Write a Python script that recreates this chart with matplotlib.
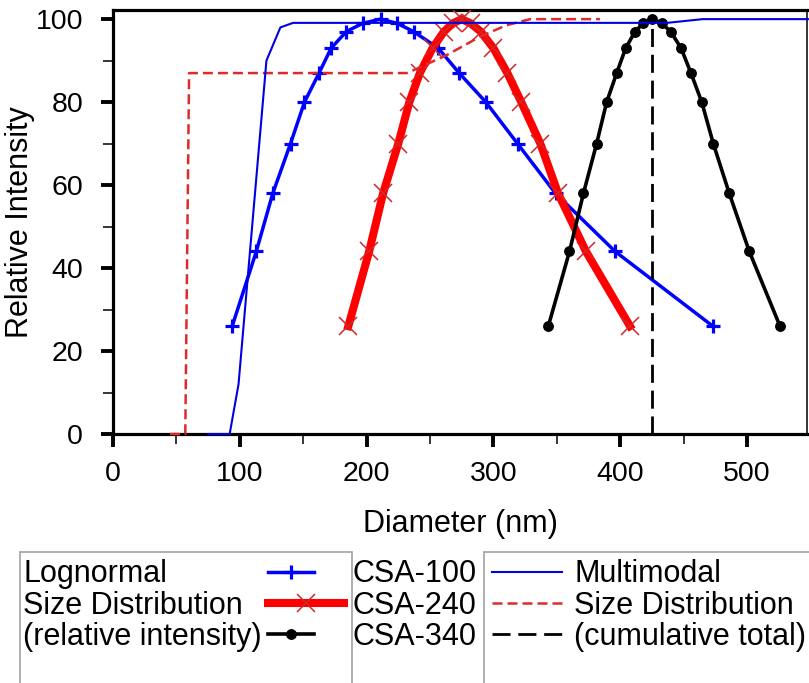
import matplotlib
matplotlib.use("Agg")
import matplotlib.pyplot as plt
from matplotlib.lines import Line2D
from matplotlib.legend_handler import HandlerLine2D
from matplotlib.ticker import MultipleLocator

plt.rcParams['font.family'] = ['Liberation Sans', 'DejaVu Sans']

# ---------------- data ----------------
# Lognormal size distributions (relative intensity)
csa100_x = [94, 113, 126, 140, 151, 162.5, 172, 184, 197, 211, 224, 237, 256.5, 273, 294, 319, 349, 396, 473]
csa100_y = [26, 44, 58, 70, 80, 87, 93, 97, 99, 100, 99, 97, 93, 87, 80, 70, 58, 44, 26]

csa240_x = [185.6, 202, 213, 225, 233.7, 242, 252, 261, 268, 275, 282, 290, 300, 311, 322, 337, 351, 373, 407.7]
csa240_y = [26, 44, 58, 70, 80, 87, 93, 97, 99, 100, 99, 97, 93, 87, 80, 70, 58, 44, 26]

csa340_x = [343.3, 360, 371, 381.4, 389.3, 397.2, 404.3, 411.7, 418.2, 425.3, 432.7, 439.8, 448, 455.8, 464.3, 473.4, 486, 501.8, 526]
csa340_y = [26, 44, 58, 70, 80, 87, 93, 97, 99, 100, 99, 97, 93, 87, 80, 70, 58, 44, 26]

# Multimodal size distributions (cumulative total)
cum100_x = [75, 92, 99, 121, 132, 142, 437, 465, 548]
cum100_y = [0, 0, 12, 90, 98, 99.1, 99.1, 100, 100]

cum240_x = [45, 57, 60, 232, 263, 289, 310, 329, 384]
cum240_y = [0, 0, 87, 87, 91.3, 95.7, 98.5, 100, 100]

cum340_x = [425, 425]
cum340_y = [0, 100]

legend_left_labels = ["Lognormal", "Size Distribution", "(relative intensity)"]
sample_labels = ["CSA-100", "CSA-240", "CSA-340"]
legend_right_labels = ["Multimodal", "Size Distribution", "(cumulative total)"]

# ---------------- figure ----------------
W, H = 809, 683
fig = plt.figure(figsize=(W / 100, H / 100), dpi=100)
ax = fig.add_axes([113 / W, (H - 434) / H, 694 / W, 424 / H])

BLUE = '#0000ff'
RED = '#ff0000'
REDM = '#d02828'

s100 = dict(color=BLUE, lw=2.5, marker='+', ms=10, mew=2.3)
s240 = dict(color=RED, lw=5.8, marker='x', ms=13, mew=1.1, mec=REDM)
s340 = dict(color='black', lw=2.6, marker='o', ms=6.8)
c100 = dict(color='#0000e0', lw=1.5)
c240 = dict(color='#e02a2a', lw=1.8, dashes=(4, 2))
c340 = dict(color='black', lw=2.0, dashes=(6.5, 2.8))

ax.plot(csa100_x, csa100_y, zorder=3, **s100)
ax.plot(csa240_x, csa240_y, zorder=3, **s240)
ax.plot(csa340_x, csa340_y, zorder=3, **s340)
ax.plot(cum240_x, cum240_y, zorder=4, clip_on=False, **c240)
ax.plot(cum100_x, cum100_y, zorder=4, clip_on=False, **c100)
ax.plot(cum340_x, cum340_y, zorder=4, **c340)

ax.set_xlim(0, 547.3)
ax.set_ylim(0, 102.2)
ax.xaxis.set_major_locator(MultipleLocator(100))
ax.xaxis.set_minor_locator(MultipleLocator(50))
ax.yaxis.set_major_locator(MultipleLocator(20))
ax.yaxis.set_minor_locator(MultipleLocator(10))

for side in ['left', 'bottom', 'top']:
    ax.spines[side].set_linewidth(2.3)
ax.spines['right'].set_linewidth(1.1)

ax.tick_params(axis='both', which='major', direction='out', length=9, width=2.8,
               labelsize=20.5, color='black')
ax.tick_params(axis='both', which='minor', direction='out', length=7.5, width=1.1)
ax.tick_params(axis='x', which='major', pad=10.5)
ax.tick_params(axis='y', which='major', pad=12.5)

ax.set_xlabel("Diameter (nm)", fontsize=22)
ax.set_ylabel("Relative Intensity", fontsize=22)
ax.xaxis.set_label_coords(0.5, -0.178)
ax.yaxis.set_label_coords(-0.113, 0.5)

# ---------------- legends ----------------
FS = 22


class WideHandler(HandlerLine2D):
    def create_artists(self, legend, orig_handle, xdescent, ydescent, width, height, fontsize, trans):
        return super().create_artists(legend, orig_handle, xdescent, ydescent,
                                      width * 1.65, height, fontsize, trans)


top = 1 - 552 / H
LS = 0.04
BP = 0.24

# box 1: text only, expanded to box width
blank = [Line2D([], [], linestyle='none') for _ in range(4)]
legA = fig.legend(blank, legend_left_labels + [" "], loc='upper left',
                  bbox_to_anchor=(20 / W, top - 0.3, 332 / W, 0.3), mode='expand',
                  fontsize=FS, frameon=True, fancybox=False, edgecolor='#8a8a8a',
                  borderpad=BP, labelspacing=LS, handlelength=0, handletextpad=-0.14,
                  borderaxespad=0)
legA.get_frame().set_linewidth(1.2)

# sample handles + names (unboxed)
h100 = Line2D([], [], **s100)
h240 = Line2D([], [], **s240)
h340 = Line2D([], [], **s340)
legB = fig.legend([h100, h240, h340], sample_labels, loc='upper left',
                  bbox_to_anchor=(268 / W, top - BP * FS * 100 / 72 / H), fontsize=FS,
                  frameon=False, borderpad=0, labelspacing=LS, handlelength=1.5,
                  handletextpad=1.25, numpoints=1, borderaxespad=0,
                  handler_map={h240: WideHandler()})

# box 2: cumulative distributions
k100 = Line2D([], [], **c100)
k240 = Line2D([], [], **c240)
k340 = Line2D([], [], **c340)
legC = fig.legend([k100, k240, k340, Line2D([], [], linestyle='none')],
                  legend_right_labels + [" "], loc='upper left',
                  bbox_to_anchor=(484.5 / W, top), fontsize=FS, frameon=True,
                  fancybox=False, edgecolor='#8a8a8a', borderpad=BP,
                  labelspacing=LS, handlelength=2.3, handletextpad=0.4,
                  borderaxespad=0)
legC.get_frame().set_linewidth(1.2)

fig.savefig("out.png", dpi=100)
